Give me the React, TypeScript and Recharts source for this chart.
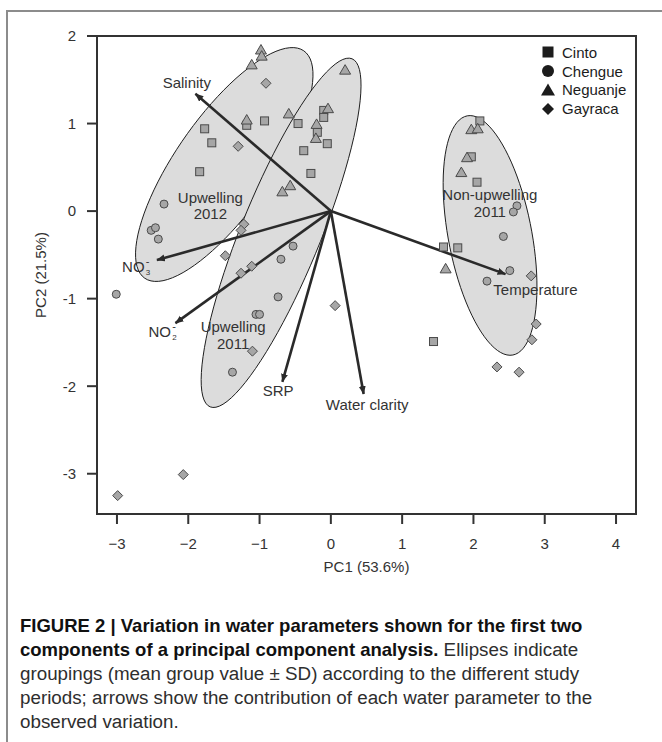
import React from "react";
import { ScatterChart, Scatter, XAxis, YAxis, ReferenceArea, Label } from "recharts";

const FONT = '"Liberation Sans", Arial, Helvetica, sans-serif';
const INK = "#333333";
const PT_FILL = "#a6a6a6";
const PT_EDGE = "#4a4a4a";

type Pt = { x: number; y: number };

const sites = ["Cinto", "Chengue", "Neguanje", "Gayraca"];

// sample scores on PC1 / PC2
const cinto: Pt[] = [
  { x: -1.77, y: 0.94 }, { x: -1.67, y: 0.78 }, { x: -1.84, y: 0.45 },
  { x: -1.18, y: 0.98 }, { x: -0.93, y: 1.03 }, { x: -0.46, y: 1.0 },
  { x: -0.1, y: 1.15 }, { x: -0.1, y: 1.07 }, { x: -0.19, y: 0.9 },
  { x: -0.05, y: 0.77 }, { x: -0.38, y: 0.69 }, { x: -0.28, y: 0.43 },
  { x: 2.09, y: 1.03 }, { x: 1.97, y: 0.62 }, { x: 2.05, y: 0.33 },
  { x: 1.58, y: -0.41 }, { x: 1.78, y: -0.42 }, { x: 1.44, y: -1.49 },
];

const chengue: Pt[] = [
  { x: -2.34, y: 0.08 }, { x: -2.52, y: -0.22 }, { x: -2.46, y: -0.19 },
  { x: -2.42, y: -0.32 }, { x: -3.01, y: -0.95 }, { x: -0.53, y: -0.4 },
  { x: -0.7, y: -0.55 }, { x: -0.74, y: -0.98 }, { x: -1.05, y: -1.18 },
  { x: -1.0, y: -1.18 }, { x: -1.38, y: -1.84 }, { x: 2.61, y: 0.06 },
  { x: 2.56, y: -0.01 }, { x: 2.42, y: -0.29 }, { x: 2.51, y: -0.68 },
  { x: 2.19, y: -0.8 },
];

const neguanje: Pt[] = [
  { x: -0.98, y: 1.84 }, { x: -0.97, y: 1.77 }, { x: -1.11, y: 1.67 },
  { x: 0.2, y: 1.61 }, { x: -0.59, y: 1.11 }, { x: -1.18, y: 1.04 },
  { x: -0.04, y: 1.17 }, { x: -0.2, y: 0.99 }, { x: -0.21, y: 0.83 },
  { x: -0.57, y: 0.29 }, { x: -0.68, y: 0.22 }, { x: 1.97, y: 0.93 },
  { x: 2.06, y: 0.94 }, { x: 1.91, y: 0.61 }, { x: 1.83, y: 0.44 },
  { x: 1.61, y: -0.66 },
];

const gayraca: Pt[] = [
  { x: -0.91, y: 1.46 }, { x: -1.3, y: 0.74 }, { x: -1.22, y: -0.15 },
  { x: -1.26, y: -0.22 }, { x: -1.48, y: -0.51 }, { x: -1.11, y: -0.63 },
  { x: -1.26, y: -0.71 }, { x: -1.1, y: -1.6 }, { x: 0.06, y: -1.08 },
  { x: 2.81, y: -0.74 }, { x: 2.88, y: -1.29 }, { x: 2.82, y: -1.47 },
  { x: 2.33, y: -1.78 }, { x: 2.64, y: -1.84 }, { x: -2.99, y: -3.25 },
  { x: -2.07, y: -3.01 },
];

const xTicks = [-3, -2, -1, 0, 1, 2, 3, 4];
const yTicks = [-3, -2, -1, 0, 1, 2];
const xDomain = [-3.28, 4.28];
const yDomain = [-3.46, 2];

// water parameter loadings (arrow tips) and where their names sit
const params = ["Salinity", "NO3", "NO2", "SRP", "Water clarity", "Temperature"];
const loadPC1 = [-1.9, -2.44, -2.18, -0.68, 0.46, 2.45];
const loadPC2 = [1.34, -0.56, -1.28, -1.95, -2.09, -0.72];
const paramLabelPC1 = [-2.02, -2.77, -2.4, -0.74, 0.51, 2.87];
const paramLabelPC2 = [1.47, -0.63, -1.37, -2.05, -2.21, -0.89];

// study periods: ellipse centre and the two half-axis vectors (PC units)
const periods = [["Upwelling", "2012"], ["Upwelling", "2011"], ["Non-upwelling", "2011"]];
const periodLabelPC1 = [-1.69, -1.37, 2.23];
const periodLabelPC2 = [0.07, -1.41, 0.1];
const ellCentre = [[-1.495, 0.532], [-0.698, -0.248], [2.233, -0.278]];
const ellAxisA = [[1.115, 1.299], [0.995, 1.988], [-0.32, 1.366]];
const ellAxisB = [[0.553, -0.311], [0.517, -0.17], [0.575, 0.089]];

const ellipseOutline = (i: number): Pt[] => {
  const [cx, cy] = ellCentre[i];
  const [ax, ay] = ellAxisA[i];
  const [bx, by] = ellAxisB[i];
  const pts: Pt[] = [];
  for (let k = 0; k <= 90; k++) {
    const t = (k / 90) * Math.PI * 2;
    pts.push({ x: cx + ax * Math.cos(t) + bx * Math.sin(t), y: cy + ay * Math.cos(t) + by * Math.sin(t) });
  }
  return pts;
};

const pathOf = (points: { x: number; y: number }[]) =>
  points.map((p, i) => `${i ? "L" : "M"}${p.x},${p.y}`).join(" ");

const EllipseLine = (p: any) => (
  <path d={pathOf(p.points || []) + " Z"} fill="#dcdcdc" stroke="#1e1e1e" strokeWidth={1} />
);

const ArrowLine = (p: any) => (
  <g>
    <defs>
      <marker id="pcaHead" markerUnits="userSpaceOnUse" markerWidth="10" markerHeight="8"
        refX="8" refY="3.5" orient="auto">
        <path d="M0,0 L8.5,3.5 L0,7 Z" fill="#2a2a2a" />
      </marker>
    </defs>
    <path d={pathOf(p.points || [])} fill="none" stroke="#2a2a2a" strokeWidth={2.6} markerEnd="url(#pcaHead)" />
  </g>
);

const Nothing = () => <g />;

const Square = (p: any) => (
  <rect x={p.cx - 4} y={p.cy - 4} width={8} height={8} fill={PT_FILL} stroke={PT_EDGE} strokeWidth={1} />
);
const Dot = (p: any) => <circle cx={p.cx} cy={p.cy} r={4} fill={PT_FILL} stroke={PT_EDGE} strokeWidth={1} />;
const Tri = (p: any) => (
  <polygon points={`${p.cx},${p.cy - 5.5} ${p.cx + 5.5},${p.cy + 4} ${p.cx - 5.5},${p.cy + 4}`}
    fill={PT_FILL} stroke={PT_EDGE} strokeWidth={1} />
);
const Diamond = (p: any) => (
  <polygon points={`${p.cx},${p.cy - 5} ${p.cx + 5},${p.cy} ${p.cx},${p.cy + 5} ${p.cx - 5},${p.cy}`}
    fill={PT_FILL} stroke={PT_EDGE} strokeWidth={1} />
);

const textStyle = { fontFamily: FONT, fontSize: 15, fill: INK };

const ParamText = (p: any) => {
  const name: string = p.payload.name;
  if (name.startsWith("NO")) {
    return (
      <g>
        <text x={p.cx} y={p.cy} textAnchor="middle" dominantBaseline="central" style={textStyle}>NO</text>
        <text x={p.cx + 12.5} y={p.cy + 6} dominantBaseline="central" style={{ ...textStyle, fontSize: 8 }}>
          {name.slice(2)}
        </text>
        <text x={p.cx + 12.5} y={p.cy - 5.5} dominantBaseline="central" style={{ ...textStyle, fontSize: 11 }}>-</text>
      </g>
    );
  }
  return (
    <text x={p.cx} y={p.cy} textAnchor="middle" dominantBaseline="central" style={textStyle}>{name}</text>
  );
};

const PeriodText = (p: any) => (
  <text x={p.cx} y={p.cy} textAnchor="middle" dominantBaseline="central" style={textStyle}>
    {(p.payload.lines as string[]).map((l, j) => (
      <tspan key={j} x={p.cx} y={p.cy + (j - 0.5) * 16.7}>{l}</tspan>
    ))}
  </text>
);

const YTitle = (props: any) => {
  const vb = props.viewBox || { x: 0, y: 0, width: 0, height: 0 };
  const x = vb.x + 40;
  const y = vb.y + vb.height / 2;
  return (
    <text x={x} y={y} transform={`rotate(-90 ${x} ${y})`} textAnchor="middle" dominantBaseline="central" style={textStyle}>
      PC2 (21.5%)
    </text>
  );
};

const XTitle = (props: any) => {
  const vb = props.viewBox || { x: 0, y: 0, width: 0, height: 0 };
  return (
    <text x={vb.x + vb.width / 2} y={vb.y + 52} textAnchor="middle" dominantBaseline="central" style={textStyle}>
      PC1 (53.6%)
    </text>
  );
};

const LegendSymbol = ({ i }: { i: number }) => {
  const c = "#1c1c1c";
  if (i === 0) return <rect x={2.5} y={2.5} width={11} height={11} fill={c} />;
  if (i === 1) return <circle cx={8} cy={8} r={6} fill={c} />;
  if (i === 2) return <polygon points="8,1.5 15,13.5 1,13.5" fill={c} />;
  return <polygon points="8,2 14,8 8,14 2,8" fill={c} />;
};

export default function App() {
  const ellipses = [0, 1, 2].map(ellipseOutline);
  const paramLabels = params.map((name, i) => ({ name, x: paramLabelPC1[i], y: paramLabelPC2[i] }));
  const periodLabels = periods.map((lines, i) => ({ lines, x: periodLabelPC1[i], y: periodLabelPC2[i] }));

  return (
    <div style={{ position: "absolute", left: 0, top: 0, width: 662, height: 742, background: "#fff", overflow: "hidden" }}>
      <div style={{ position: "absolute", left: 6, top: 10, width: 660, borderTop: "2px solid #8c8c8c" }} />
      <div style={{ position: "absolute", left: 6, top: 10, height: 740, borderLeft: "2px solid #8c8c8c" }} />

      <div style={{ position: "absolute", left: 0, top: 0 }}>
        <ScatterChart width={662} height={600} margin={{ top: 36, right: 26, bottom: 0, left: 0 }}>
          <XAxis type="number" dataKey="x" domain={xDomain} ticks={xTicks} interval={0}
            axisLine={false} tickSize={10} tickMargin={14} height={86}
            tickLine={{ stroke: INK, strokeWidth: 2 }}
            tick={{ fill: INK, fontSize: 15, fontFamily: FONT }}
            tickFormatter={(v: number) => String(v).replace("-", "\u2212")}>
            <Label content={XTitle} />
          </XAxis>
          <YAxis type="number" dataKey="y" domain={yDomain} ticks={yTicks} interval={0}
            axisLine={false} tickSize={10} tickMargin={11} width={97}
            tickLine={{ stroke: INK, strokeWidth: 2 }}
            tick={{ fill: INK, fontSize: 15, fontFamily: FONT }}>
            <Label content={YTitle} />
          </YAxis>

          {ellipses.map((pts, i) => (
            <Scatter key={`ell${i}`} data={pts} shape={Nothing} line={EllipseLine} isAnimationActive={false} />
          ))}

          {params.map((name, i) => (
            <Scatter key={`arr${name}`} data={[{ x: 0, y: 0 }, { x: loadPC1[i], y: loadPC2[i] }]}
              shape={Nothing} line={ArrowLine} isAnimationActive={false} />
          ))}

          <Scatter name="Cinto" data={cinto} shape={Square} isAnimationActive={false} />
          <Scatter name="Chengue" data={chengue} shape={Dot} isAnimationActive={false} />
          <Scatter name="Neguanje" data={neguanje} shape={Tri} isAnimationActive={false} />
          <Scatter name="Gayraca" data={gayraca} shape={Diamond} isAnimationActive={false} />

          <Scatter data={paramLabels} shape={ParamText} isAnimationActive={false} />
          <Scatter data={periodLabels} shape={PeriodText} isAnimationActive={false} />

          <ReferenceArea x1={xDomain[0]} x2={xDomain[1]} y1={yDomain[0]} y2={yDomain[1]}
            fill="none" stroke={INK} strokeWidth={2} ifOverflow="visible" />
        </ScatterChart>
      </div>

      <div style={{ position: "absolute", left: 540, top: 43, fontFamily: FONT, fontSize: 15, color: "#1c1c1c" }}>
        {sites.map((s, i) => (
          <div key={s} style={{ height: 18.8, display: "flex", alignItems: "center" }}>
            <svg width={16} height={16}><LegendSymbol i={i} /></svg>
            <span style={{ marginLeft: 6 }}>{s}</span>
          </div>
        ))}
      </div>

      <div style={{ position: "absolute", left: 20, top: 614, fontFamily: FONT, fontSize: 18.8, lineHeight: "24px", color: "#2e2e2e", whiteSpace: "nowrap" }}>
        <div style={{ fontWeight: "bold", fontSize: 18.5, color: "#111" }}>
          FIGURE 2 | Variation in water parameters shown for the first two
        </div>
        <div>
          <span style={{ fontWeight: "bold", fontSize: 18.5, color: "#111" }}>components of a principal component analysis.</span>{" "}
          Ellipses indicate
        </div>
        <div>groupings (mean group value ± SD) according to the different study</div>
        <div>periods; arrows show the contribution of each water parameter to the</div>
        <div>observed variation.</div>
      </div>
    </div>
  );
}
